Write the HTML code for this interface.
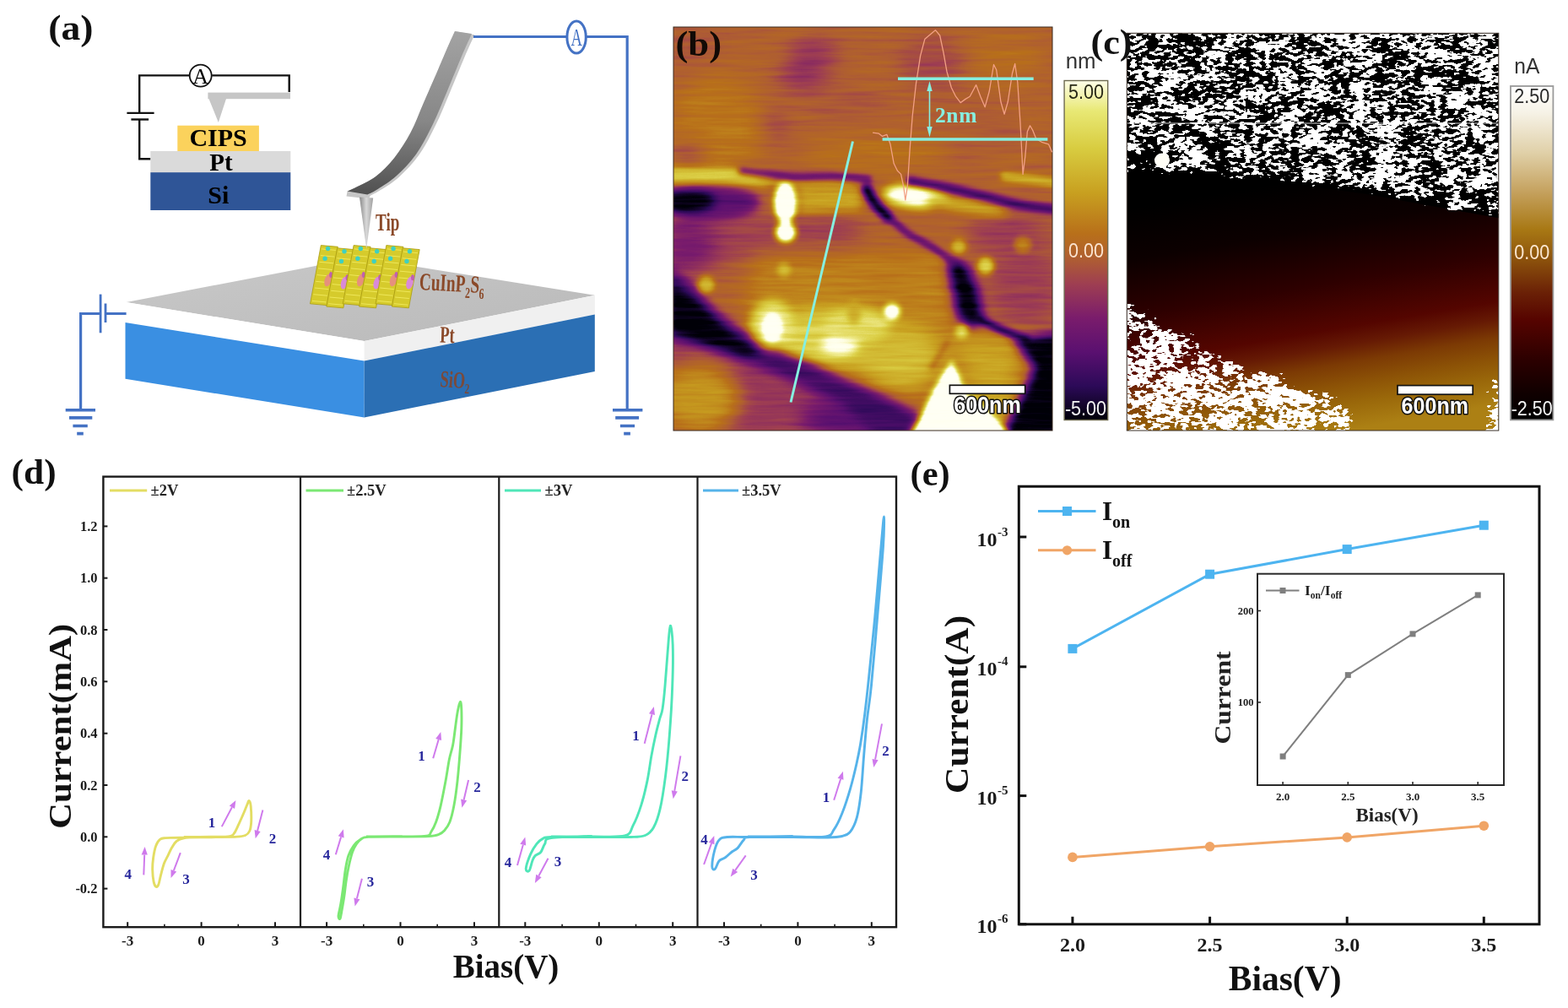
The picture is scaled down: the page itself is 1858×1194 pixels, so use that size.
<!DOCTYPE html>
<html lang="en"><head><meta charset="utf-8"><title>Figure</title>
<style>
html,body{margin:0;padding:0;background:#fff;}
body{width:1858px;height:1194px;overflow:hidden;}
svg{display:block;}
.s{font-family:"Liberation Serif",serif;font-weight:bold;}
.a{font-family:"Liberation Sans",sans-serif;}
</style></head><body>
<svg width="1858" height="1194" viewBox="0 0 1858 1194">
<rect x="0" y="0" width="1858" height="1194" fill="#ffffff"/>

<g id="pa">
<defs><linearGradient id="cant" x1="0" y1="0" x2="0" y2="1"><stop offset="0" stop-color="#a3a3a3"/><stop offset="0.55" stop-color="#878787"/><stop offset="1" stop-color="#505050"/></linearGradient><linearGradient id="tipg" x1="0" y1="0" x2="1" y2="0"><stop offset="0" stop-color="#8a8a8a"/><stop offset="0.5" stop-color="#d8d8d8"/><stop offset="1" stop-color="#a0a0a0"/></linearGradient><linearGradient id="topg" x1="0" y1="0" x2="1" y2="1"><stop offset="0" stop-color="#c9c9c9"/><stop offset="1" stop-color="#b9b9b9"/></linearGradient></defs>
<text class="s" font-size="42.5" text-anchor="start" fill="#111" transform="translate(57.3 47.1) scale(1.075 1)">(a)</text>
<g fill="none" stroke="#111" stroke-width="2.4"><path d="M178.5 188.3 H165.2 V141.5 M165.2 133.9 V89.4 H224.2 M251.2 89.4 H342.7 V109"/><path d="M150.4 133.9 H182.6"/><path d="M155.4 141.5 H176.1"/><circle cx="237.7" cy="89.6" r="13" stroke-width="1.8" fill="#fff"/></g>
<text class="s" x="237.7" y="98.5" font-size="26" text-anchor="middle" style="font-weight:normal">A</text>
<rect x="246.4" y="109.6" width="97.6" height="7.6" fill="#c6c6c6"/>
<polygon points="247.5,117 268,117 258.8,145" fill="#c6c6c6"/>
<rect x="210.3" y="148.7" width="96.6" height="30.5" fill="#fbd25c"/>
<rect x="178.3" y="179" width="166" height="25.4" fill="#dadada"/>
<rect x="178.3" y="204.2" width="166" height="44.8" fill="#2f5597"/>
<text class="s" x="258.6" y="173.2" font-size="30" text-anchor="middle">CIPS</text>
<text class="s" x="262" y="201.6" font-size="29" text-anchor="middle">Pt</text>
<text class="s" x="258.8" y="240.8" font-size="30" text-anchor="middle">Si</text>
<polygon points="149.6,358 426,305 704.8,349.7 431.6,404.1" fill="url(#topg)"/>
<polygon points="149.6,358 431.6,404.1 431.6,427.6 149.6,382" fill="#ffffff"/>
<polygon points="431.6,404.1 704.8,349.7 704.8,372.5 431.6,427.6" fill="#f0f0f0"/>
<polygon points="148.5,381.9 431.6,427.6 431.6,494.5 148.5,448.8" fill="#3a8fe2"/>
<polygon points="431.6,427.6 704.8,372.5 704.8,440 431.6,494.5" fill="#2b6fb4"/>
<g id="cryst">
<polygon points="380.3,290.6 400.3,292.3 387.5,361.6 367.5,359.8" fill="#d6cb2c" stroke="#a99c10" stroke-width="0.8"/>
<line x1="381.3" y1="294.9" x2="397.9" y2="296.4" stroke="#efe85a" stroke-width="1"/>
<line x1="379.9" y1="302.6" x2="396.5" y2="304.1" stroke="#efe85a" stroke-width="1"/>
<line x1="378.5" y1="310.3" x2="395.0" y2="311.8" stroke="#efe85a" stroke-width="1"/>
<line x1="377.1" y1="317.9" x2="393.6" y2="319.5" stroke="#efe85a" stroke-width="1"/>
<line x1="375.6" y1="325.6" x2="392.2" y2="327.2" stroke="#efe85a" stroke-width="1"/>
<line x1="374.2" y1="333.3" x2="390.8" y2="334.9" stroke="#efe85a" stroke-width="1"/>
<line x1="372.8" y1="341.0" x2="389.3" y2="342.6" stroke="#efe85a" stroke-width="1"/>
<line x1="371.4" y1="348.7" x2="387.9" y2="350.2" stroke="#efe85a" stroke-width="1"/>
<line x1="369.9" y1="356.4" x2="386.5" y2="357.9" stroke="#efe85a" stroke-width="1"/>
<circle cx="388.6" cy="294.5" r="2.7" fill="#3fd0c0"/>
<circle cx="385.1" cy="306.3" r="2.7" fill="#3fd0c0"/>
<ellipse cx="388.6" cy="332.0" rx="4" ry="7.5" fill="#e6907c" transform="rotate(15 388.6 332.0)"/>
<ellipse cx="392.1" cy="325.4" rx="2" ry="3.5" fill="#c060b0"/>
<polygon points="399.7,293.8 419.7,295.6 406.9,364.8 386.8,363.1" fill="#d6cb2c" stroke="#a99c10" stroke-width="0.8"/>
<line x1="400.7" y1="298.1" x2="417.3" y2="299.7" stroke="#efe85a" stroke-width="1"/>
<line x1="399.3" y1="305.8" x2="415.8" y2="307.3" stroke="#efe85a" stroke-width="1"/>
<line x1="397.9" y1="313.5" x2="414.4" y2="315.0" stroke="#efe85a" stroke-width="1"/>
<line x1="396.4" y1="321.2" x2="413.0" y2="322.7" stroke="#efe85a" stroke-width="1"/>
<line x1="395.0" y1="328.9" x2="411.6" y2="330.4" stroke="#efe85a" stroke-width="1"/>
<line x1="393.6" y1="336.6" x2="410.1" y2="338.1" stroke="#efe85a" stroke-width="1"/>
<line x1="392.2" y1="344.3" x2="408.7" y2="345.8" stroke="#efe85a" stroke-width="1"/>
<line x1="390.7" y1="352.0" x2="407.3" y2="353.5" stroke="#efe85a" stroke-width="1"/>
<line x1="389.3" y1="359.7" x2="405.9" y2="361.2" stroke="#efe85a" stroke-width="1"/>
<circle cx="408.0" cy="297.8" r="2.7" fill="#3fd0c0"/>
<circle cx="404.5" cy="309.5" r="2.7" fill="#3fd0c0"/>
<ellipse cx="408.0" cy="335.2" rx="4" ry="7.5" fill="#d98ad8" transform="rotate(15 408.0 335.2)"/>
<ellipse cx="411.5" cy="328.7" rx="2" ry="3.5" fill="#c060b0"/>
<polygon points="419.1,290.6 439.1,292.3 426.3,361.6 406.2,359.8" fill="#d6cb2c" stroke="#a99c10" stroke-width="0.8"/>
<line x1="420.1" y1="294.9" x2="436.7" y2="296.4" stroke="#efe85a" stroke-width="1"/>
<line x1="418.7" y1="302.6" x2="435.2" y2="304.1" stroke="#efe85a" stroke-width="1"/>
<line x1="417.2" y1="310.3" x2="433.8" y2="311.8" stroke="#efe85a" stroke-width="1"/>
<line x1="415.8" y1="317.9" x2="432.4" y2="319.5" stroke="#efe85a" stroke-width="1"/>
<line x1="414.4" y1="325.6" x2="430.9" y2="327.2" stroke="#efe85a" stroke-width="1"/>
<line x1="413.0" y1="333.3" x2="429.5" y2="334.9" stroke="#efe85a" stroke-width="1"/>
<line x1="411.5" y1="341.0" x2="428.1" y2="342.6" stroke="#efe85a" stroke-width="1"/>
<line x1="410.1" y1="348.7" x2="426.7" y2="350.2" stroke="#efe85a" stroke-width="1"/>
<line x1="408.7" y1="356.4" x2="425.2" y2="357.9" stroke="#efe85a" stroke-width="1"/>
<circle cx="427.3" cy="294.5" r="2.7" fill="#3fd0c0"/>
<circle cx="423.9" cy="306.3" r="2.7" fill="#3fd0c0"/>
<ellipse cx="427.3" cy="332.0" rx="4" ry="7.5" fill="#e6907c" transform="rotate(15 427.3 332.0)"/>
<ellipse cx="430.8" cy="325.4" rx="2" ry="3.5" fill="#c060b0"/>
<polygon points="438.5,293.8 458.5,295.6 445.6,364.8 425.6,363.1" fill="#d6cb2c" stroke="#a99c10" stroke-width="0.8"/>
<line x1="439.5" y1="298.1" x2="456.0" y2="299.7" stroke="#efe85a" stroke-width="1"/>
<line x1="438.1" y1="305.8" x2="454.6" y2="307.3" stroke="#efe85a" stroke-width="1"/>
<line x1="436.6" y1="313.5" x2="453.2" y2="315.0" stroke="#efe85a" stroke-width="1"/>
<line x1="435.2" y1="321.2" x2="451.7" y2="322.7" stroke="#efe85a" stroke-width="1"/>
<line x1="433.8" y1="328.9" x2="450.3" y2="330.4" stroke="#efe85a" stroke-width="1"/>
<line x1="432.3" y1="336.6" x2="448.9" y2="338.1" stroke="#efe85a" stroke-width="1"/>
<line x1="430.9" y1="344.3" x2="447.5" y2="345.8" stroke="#efe85a" stroke-width="1"/>
<line x1="429.5" y1="352.0" x2="446.0" y2="353.5" stroke="#efe85a" stroke-width="1"/>
<line x1="428.1" y1="359.7" x2="444.6" y2="361.2" stroke="#efe85a" stroke-width="1"/>
<circle cx="446.7" cy="297.8" r="2.7" fill="#3fd0c0"/>
<circle cx="443.2" cy="309.5" r="2.7" fill="#3fd0c0"/>
<ellipse cx="446.7" cy="335.2" rx="4" ry="7.5" fill="#d98ad8" transform="rotate(15 446.7 335.2)"/>
<ellipse cx="450.2" cy="328.7" rx="2" ry="3.5" fill="#c060b0"/>
<polygon points="457.8,290.6 477.9,292.3 465.0,361.6 445.0,359.8" fill="#d6cb2c" stroke="#a99c10" stroke-width="0.8"/>
<line x1="458.9" y1="294.9" x2="475.4" y2="296.4" stroke="#efe85a" stroke-width="1"/>
<line x1="457.4" y1="302.6" x2="474.0" y2="304.1" stroke="#efe85a" stroke-width="1"/>
<line x1="456.0" y1="310.3" x2="472.6" y2="311.8" stroke="#efe85a" stroke-width="1"/>
<line x1="454.6" y1="317.9" x2="471.1" y2="319.5" stroke="#efe85a" stroke-width="1"/>
<line x1="453.2" y1="325.6" x2="469.7" y2="327.2" stroke="#efe85a" stroke-width="1"/>
<line x1="451.7" y1="333.3" x2="468.3" y2="334.9" stroke="#efe85a" stroke-width="1"/>
<line x1="450.3" y1="341.0" x2="466.8" y2="342.6" stroke="#efe85a" stroke-width="1"/>
<line x1="448.9" y1="348.7" x2="465.4" y2="350.2" stroke="#efe85a" stroke-width="1"/>
<line x1="447.4" y1="356.4" x2="464.0" y2="357.9" stroke="#efe85a" stroke-width="1"/>
<circle cx="466.1" cy="294.5" r="2.7" fill="#3fd0c0"/>
<circle cx="462.6" cy="306.3" r="2.7" fill="#3fd0c0"/>
<ellipse cx="466.1" cy="332.0" rx="4" ry="7.5" fill="#e6907c" transform="rotate(15 466.1 332.0)"/>
<ellipse cx="469.6" cy="325.4" rx="2" ry="3.5" fill="#c060b0"/>
<polygon points="477.2,293.8 497.2,295.6 484.4,364.8 464.4,363.1" fill="#d6cb2c" stroke="#a99c10" stroke-width="0.8"/>
<line x1="478.2" y1="298.1" x2="494.8" y2="299.7" stroke="#efe85a" stroke-width="1"/>
<line x1="476.8" y1="305.8" x2="493.4" y2="307.3" stroke="#efe85a" stroke-width="1"/>
<line x1="475.4" y1="313.5" x2="491.9" y2="315.0" stroke="#efe85a" stroke-width="1"/>
<line x1="474.0" y1="321.2" x2="490.5" y2="322.7" stroke="#efe85a" stroke-width="1"/>
<line x1="472.5" y1="328.9" x2="489.1" y2="330.4" stroke="#efe85a" stroke-width="1"/>
<line x1="471.1" y1="336.6" x2="487.7" y2="338.1" stroke="#efe85a" stroke-width="1"/>
<line x1="469.7" y1="344.3" x2="486.2" y2="345.8" stroke="#efe85a" stroke-width="1"/>
<line x1="468.2" y1="352.0" x2="484.8" y2="353.5" stroke="#efe85a" stroke-width="1"/>
<line x1="466.8" y1="359.7" x2="483.4" y2="361.2" stroke="#efe85a" stroke-width="1"/>
<circle cx="485.5" cy="297.8" r="2.7" fill="#3fd0c0"/>
<circle cx="482.0" cy="309.5" r="2.7" fill="#3fd0c0"/>
<ellipse cx="485.5" cy="335.2" rx="4" ry="7.5" fill="#d98ad8" transform="rotate(15 485.5 335.2)"/>
<ellipse cx="489.0" cy="328.7" rx="2" ry="3.5" fill="#c060b0"/>
</g>
<path d="M539.0 37.0 C537.5 40.3 533.8 48.2 530.2 56.6 C526.6 65.0 521.9 76.2 517.2 87.1 C512.5 98.0 507.0 110.3 501.9 121.9 C496.8 133.5 492.5 145.9 486.7 156.8 C480.9 167.7 474.0 178.6 467.1 187.3 C460.2 196.0 452.6 203.4 445.3 209.0 C438.0 214.6 429.1 218.1 423.5 221.0 C417.9 223.9 413.6 225.6 411.6 226.5 L410.5 232.6 L437.0 235.6 L438.8 231.7 C440.8 230.6 445.3 228.8 451.0 225.1 C456.7 221.4 465.2 216.7 472.8 209.7 C480.4 202.7 489.4 193.6 496.7 183.3 C503.9 173.0 510.2 160.5 516.3 148.1 C522.4 135.7 527.6 122.3 533.3 108.9 C539.0 95.5 545.5 79.2 550.3 67.9 C555.1 56.6 560.3 45.7 562.3 41.2 Z" fill="#c6c6c6"/>
<path d="M539.0 37.0 C537.5 40.3 533.8 48.2 530.2 56.6 C526.6 65.0 521.9 76.2 517.2 87.1 C512.5 98.0 507.0 110.3 501.9 121.9 C496.8 133.5 492.5 145.9 486.7 156.8 C480.9 167.7 474.0 178.6 467.1 187.3 C460.2 196.0 452.6 203.4 445.3 209.0 C438.0 214.6 429.1 218.1 423.5 221.0 C417.9 223.9 413.6 225.6 411.6 226.5  L435.5 230.6 C437.5 229.5 442.0 227.8 447.7 224.1 C453.4 220.4 461.9 215.6 469.5 208.6 C477.1 201.6 486.1 192.6 493.4 182.3 C500.6 172.0 506.9 159.4 513.0 147.0 C519.1 134.6 524.3 121.2 530.0 107.8 C535.7 94.4 542.2 78.1 547.0 66.8 C551.8 55.5 557.0 44.5 559.0 40.1 Z" fill="url(#cant)"/>
<polygon points="426,233.4 442.2,234.5 434.2,295" fill="url(#tipg)"/>
<g fill="none" stroke="#4472c4" stroke-width="3.2"><path d="M561 43.5 H671.6 M694.6 43.5 H743.2 V486"/><path d="M726 485.8 H761.4 M729.2 494.9 H757.1 M734.9 504.5 H752.1 M739.2 513.6 H746.9" stroke-width="3.6"/><ellipse cx="683.1" cy="44" rx="11.2" ry="19" fill="#fff" stroke-width="3"/><path d="M149.6 371.5 H125 M119.1 371.5 H95.6 V486"/><path d="M119.1 348.6 V394.3" stroke-width="2.8"/><path d="M125 359.5 V382" stroke-width="2.8"/><path d="M77.7 485.8 H113 M82 494.9 H109.3 M86.4 504.5 H103.8 M91.2 513.6 H98.8" stroke-width="3.6"/></g>
<text class="s" x="683.1" y="54" font-size="30" text-anchor="middle" fill="#4472c4" transform="translate(683.1 0) scale(0.62 1) translate(-683.1 0)" style="font-weight:normal">A</text>
<text class="s" font-size="29" fill="#8b4a2a" transform="translate(445 273) scale(0.66 1)">Tip</text>
<text class="s" font-size="29" fill="#8b4a2a" transform="translate(496.5 343) rotate(3) scale(0.665 1)">CuInP<tspan font-size="18" dy="7">2</tspan><tspan dy="-7">S</tspan><tspan font-size="18" dy="7">6</tspan></text>
<text class="s" font-size="28" fill="#8b4a2a" transform="translate(521 405.5) rotate(2) scale(0.66 1)">Pt</text>
<text class="s" font-size="28" fill="#7a4a3a" transform="translate(521 458) rotate(4) scale(0.66 1)">SiO<tspan font-size="17" dy="6">2</tspan></text>
</g>
<g id="pb">
<defs><clipPath id="clipB"><rect x="798" y="32" width="449" height="478"/></clipPath><filter id="cmapB" filterUnits="userSpaceOnUse" x="758" y="-8" width="529" height="558" color-interpolation-filters="sRGB"><feTurbulence type="fractalNoise" baseFrequency="0.012 0.2" numOctaves="3" seed="7" result="n"/><feColorMatrix in="n" type="matrix" values="1 0 0 0 0  1 0 0 0 0  1 0 0 0 0  0 0 0 0 1" result="n2"/><feComposite in="SourceGraphic" in2="n2" operator="arithmetic" k1="0" k2="1" k3="0.11" k4="-0.055" result="m"/><feComponentTransfer in="m"><feFuncR type="table" tableValues="0.000 0.043 0.086 0.129 0.173 0.218 0.263 0.308 0.353 0.384 0.416 0.447 0.478 0.514 0.549 0.584 0.620 0.642 0.664 0.686 0.699 0.710 0.722 0.735 0.748 0.761 0.774 0.787 0.802 0.817 0.831 0.846 0.867 0.896 0.925 0.953 0.975 0.996 1.000 1.000 1.000"/><feFuncG type="table" tableValues="0.000 0.010 0.020 0.029 0.039 0.045 0.051 0.057 0.063 0.075 0.086 0.098 0.110 0.143 0.176 0.210 0.243 0.285 0.326 0.368 0.394 0.417 0.439 0.478 0.518 0.557 0.596 0.635 0.673 0.710 0.748 0.785 0.824 0.863 0.902 0.939 0.967 0.994 1.000 1.000 1.000"/><feFuncB type="table" tableValues="0.031 0.110 0.188 0.267 0.345 0.369 0.392 0.416 0.439 0.435 0.431 0.427 0.424 0.398 0.373 0.347 0.322 0.280 0.238 0.197 0.164 0.133 0.102 0.107 0.112 0.117 0.122 0.131 0.159 0.187 0.214 0.242 0.300 0.403 0.506 0.616 0.757 0.897 0.934 0.946 0.957"/></feComponentTransfer></filter><filter id="bl12" filterUnits="userSpaceOnUse" x="758" y="-8" width="529" height="558" color-interpolation-filters="sRGB"><feGaussianBlur stdDeviation="12"/></filter><filter id="bl6" filterUnits="userSpaceOnUse" x="758" y="-8" width="529" height="558" color-interpolation-filters="sRGB"><feGaussianBlur stdDeviation="6"/></filter><filter id="bl3" filterUnits="userSpaceOnUse" x="758" y="-8" width="529" height="558" color-interpolation-filters="sRGB"><feGaussianBlur stdDeviation="3.2"/></filter><filter id="bl2" filterUnits="userSpaceOnUse" x="758" y="-8" width="529" height="558" color-interpolation-filters="sRGB"><feGaussianBlur stdDeviation="1.8"/></filter></defs>
<g clip-path="url(#clipB)"><g filter="url(#cmapB)">
<g filter="url(#bl12)"><rect x="758" y="-8" width="529" height="558" fill="#7d7d7d"/><ellipse cx="850" cy="150" rx="55" ry="60" fill="#8f8f8f"/><ellipse cx="818" cy="52" rx="32" ry="24" fill="#737373"/><ellipse cx="1000" cy="120" rx="50" ry="25" fill="#757575"/><ellipse cx="965" cy="62" rx="30" ry="18" fill="#5c5c5c"/><ellipse cx="948" cy="92" rx="28" ry="16" fill="#5c5c5c"/><ellipse cx="918" cy="148" rx="18" ry="14" fill="#666666"/><ellipse cx="815" cy="185" rx="20" ry="18" fill="#6b6b6b"/><ellipse cx="1105" cy="75" rx="40" ry="30" fill="#6b6b6b"/><ellipse cx="1190" cy="70" rx="45" ry="30" fill="#878787"/><ellipse cx="1150" cy="150" rx="70" ry="30" fill="#787878"/><ellipse cx="1040" cy="180" rx="90" ry="22" fill="#8a8a8a"/><polygon points="790,255 900,258 1020,255 1020,292 900,300 790,330" fill="#666666"/><ellipse cx="815" cy="290" rx="35" ry="35" fill="#4c4c4c"/><polygon points="895,300 1120,300 1135,430 1100,470 1000,440 930,415 880,380" fill="#969696"/><ellipse cx="980" cy="402" rx="85" ry="36" fill="#cccccc"/><ellipse cx="1065" cy="424" rx="50" ry="40" fill="#bdbdbd"/><polygon points="1140,250 1260,250 1260,400 1170,390" fill="#737373"/><ellipse cx="1215" cy="340" rx="40" ry="40" fill="#666666"/><ellipse cx="1190" cy="275" rx="40" ry="18" fill="#616161"/><polygon points="790,400 900,430 1000,470 1090,520 790,520" fill="#616161"/><ellipse cx="828" cy="472" rx="48" ry="42" fill="#a3a3a3"/><ellipse cx="1010" cy="497" rx="60" ry="25" fill="#333333"/><polygon points="1130,392 1214,398 1202,520 1150,520" fill="#adadad"/></g>
<g filter="url(#bl6)"><polygon points="790,199 860,201 900,206 920,213 905,218 860,216 790,216" fill="#dbdbdb"/><ellipse cx="842" cy="240" rx="58" ry="20" fill="#333333"/><ellipse cx="812" cy="238" rx="36" ry="15" fill="#000000"/><polygon points="945,218 1018,220 1022,250 945,252" fill="#adadad"/><polygon points="790,314 815,332 850,370 885,396 930,419 965,432 1005,452 1045,470 1090,492 1090,520 1040,520 1000,482 950,458 900,436 860,420 820,408 790,402" fill="#242424"/><polygon points="790,332 828,358 868,396 908,416 880,424 840,412 790,394" fill="#000000"/><polygon points="1200,402 1260,394 1260,520 1184,520 1208,472 1226,436" fill="#000000"/><polygon points="1126,303 1146,314 1160,345 1166,382 1150,388 1134,376 1130,350 1124,325" fill="#000000"/><ellipse cx="1086" cy="232.5" rx="40" ry="13.5" fill="#ffffff" transform="rotate(5 1086 232.5)"/><ellipse cx="1145" cy="244" rx="50" ry="9" fill="#b2b2b2" transform="rotate(8 1145 244)"/><polygon points="1128,432 1140,456 1162,484 1196,520 1078,520 1102,474" fill="#f2f2f2"/><ellipse cx="995" cy="409" rx="22" ry="9" fill="#ffffff"/><ellipse cx="1015" cy="385" rx="40" ry="20" fill="#d1d1d1"/><ellipse cx="915" cy="385" rx="26" ry="30" fill="#d6d6d6"/></g>
<g filter="url(#bl3)"><path d="M878.0 202.0 C883.3 202.7 898.8 204.7 910.0 206.0 C921.2 207.3 932.5 209.5 945.0 210.0 C957.5 210.5 970.8 208.7 985.0 209.0 C999.2 209.3 1022.5 211.5 1030.0 212.0" fill="none" stroke="#1f1f1f" stroke-width="6" stroke-linecap="round"/><path d="M900.0 214.0 C908.3 214.7 931.7 217.2 950.0 218.0 C968.3 218.8 1000.0 218.8 1010.0 219.0" fill="none" stroke="#adadad" stroke-width="4" stroke-linecap="round"/><path d="M1052.0 256.0 C1055.8 259.3 1066.2 269.8 1075.0 276.0 C1083.8 282.2 1095.8 287.2 1105.0 293.0 C1114.2 298.8 1125.8 308.0 1130.0 311.0" fill="none" stroke="#292929" stroke-width="7" stroke-linecap="round"/><path d="M1027.0 224.0 C1028.5 226.7 1031.8 234.5 1036.0 240.0 C1040.2 245.5 1049.3 254.2 1052.0 257.0" fill="none" stroke="#000000" stroke-width="12" stroke-linecap="round"/><path d="M1078.0 214.0 C1083.3 215.0 1096.3 217.2 1110.0 220.0 C1123.7 222.8 1143.3 227.2 1160.0 231.0 C1176.7 234.8 1195.0 240.2 1210.0 243.0 C1225.0 245.8 1243.3 247.2 1250.0 248.0" fill="none" stroke="#1a1a1a" stroke-width="9.5" stroke-linecap="round"/><path d="M1160.0 378.0 C1165.0 380.3 1180.5 388.0 1190.0 392.0 C1199.5 396.0 1212.5 400.3 1217.0 402.0" fill="none" stroke="#000000" stroke-width="8" stroke-linecap="round"/><path d="M1190.0 209.0 C1200.0 210.2 1240.0 214.8 1250.0 216.0" fill="none" stroke="#b8b8b8" stroke-width="10" stroke-linecap="round"/><polygon points="1128,426 1138,452 1144,470 1168,484 1204,522 1074,522 1090,498 1110,455" fill="#ffffff"/><path d="M1123.0 404.0 C1121.5 406.7 1117.2 414.7 1114.0 420.0 C1110.8 425.3 1105.7 433.3 1104.0 436.0" fill="none" stroke="#7a7a7a" stroke-width="4" stroke-linecap="round"/><ellipse cx="1139.5" cy="393" rx="8" ry="8" fill="#d1d1d1"/><ellipse cx="930.5" cy="240" rx="14" ry="25" fill="#ffffff"/><ellipse cx="931" cy="275" rx="12.5" ry="12" fill="#ffffff"/><ellipse cx="915" cy="388" rx="12" ry="17" fill="#ffffff"/><ellipse cx="1057" cy="369" rx="10" ry="10" fill="#ffffff"/><ellipse cx="837" cy="337" rx="10" ry="10" fill="#b8b8b8"/><ellipse cx="929" cy="320" rx="8" ry="9" fill="#b8b8b8"/><ellipse cx="1136" cy="292" rx="9" ry="9" fill="#b8b8b8"/><ellipse cx="1168" cy="315" rx="10" ry="10" fill="#cccccc"/><ellipse cx="1212" cy="290" rx="10" ry="9" fill="#999999"/><ellipse cx="1012" cy="370" rx="8" ry="14" fill="#b2b2b2"/></g>
</g></g>
<rect x="798" y="32" width="449" height="478" fill="none" stroke="#3a2a20" stroke-width="1"/>
<line x1="1010.5" y1="167.5" x2="937" y2="476.5" stroke="#86efe0" stroke-width="3"/>
<polyline points="1034.1,157.2 1041.4,158.2 1045.6,161.4 1050.8,159.3 1055.0,170.8 1059.2,193.8 1063.4,202.2 1067.6,206.4 1070.7,221.0 1072.8,236.8 1075.3,221.0 1078.1,177.1 1081.2,137.3 1085.4,99.6 1090.6,66.1 1095.9,46.2 1102.1,40.9 1108.4,35.7 1113.7,42.0 1117.9,61.9 1122.0,84.9 1127.3,103.8 1132.5,114.2 1138.2,121.6 1144.0,117.4 1149.3,114.2 1156.6,100.6 1161.8,114.2 1167.1,126.8 1172.3,108.0 1177.5,76.5 1180.7,82.8 1185.9,120.5 1190.1,135.2 1194.3,120.5 1199.5,87.0 1202.7,75.5 1205.8,97.5 1209.0,145.7 1212.1,206.4 1214.8,185.4 1217.3,156.1 1220.5,148.8 1223.6,154.0 1227.8,164.5 1235.1,168.7 1242.5,170.8 1246.6,180.2" fill="none" stroke="#f2a084" stroke-width="1.3" stroke-linejoin="round"/>
<line x1="1064" y1="93.3" x2="1224.7" y2="93.3" stroke="#86efe0" stroke-width="3.6"/>
<line x1="1045.6" y1="165" x2="1241.4" y2="165" stroke="#86efe0" stroke-width="3.6"/>
<line x1="1101.5" y1="104" x2="1101.5" y2="154" stroke="#86efe0" stroke-width="1.6"/>
<polygon points="1101.5,96 1098.3,108 1104.7,108" fill="#86efe0"/><polygon points="1101.5,162.5 1098.3,150 1104.7,150" fill="#86efe0"/>
<text class="s" x="1108" y="145" font-size="25.5" fill="#86efe0" letter-spacing="0.6">2nm</text>
<text class="s" font-size="42.5" text-anchor="start" fill="#120a06" transform="translate(800.5 66) scale(1.05 1)">(b)</text>
<rect x="1125.4" y="456.3" width="89.3" height="10" fill="#fff" stroke="#111" stroke-width="1.7"/>
<text class="a" x="1170" y="489.3" font-size="27" font-weight="bold" textLength="79.5" lengthAdjust="spacingAndGlyphs" text-anchor="middle" fill="#fff" stroke="#111" stroke-width="3.2" stroke-linejoin="round" paint-order="stroke">600nm</text>
<defs><linearGradient id="cbB" x1="0" y1="1" x2="0" y2="0"><stop offset="0.0" stop-color="rgb(0,0,8)"/><stop offset="0.1" stop-color="rgb(44,10,88)"/><stop offset="0.2" stop-color="rgb(90,16,112)"/><stop offset="0.3" stop-color="rgb(122,28,108)"/><stop offset="0.4" stop-color="rgb(158,62,82)"/><stop offset="0.48" stop-color="rgb(176,96,48)"/><stop offset="0.55" stop-color="rgb(184,112,26)"/><stop offset="0.67" stop-color="rgb(200,160,32)"/><stop offset="0.8" stop-color="rgb(216,204,64)"/><stop offset="0.91" stop-color="rgb(232,232,116)"/><stop offset="0.95" stop-color="rgb(242,242,168)"/><stop offset="1.0" stop-color="rgb(253,253,232)"/></linearGradient></defs>
<rect x="1261.1" y="95.5" width="51.6" height="402" fill="url(#cbB)" stroke="#6e6a50" stroke-width="1.4"/>
<text class="a" font-size="24.5" text-anchor="middle" fill="#2a2a18" transform="translate(1287 117) scale(0.88 1)">5.00</text>
<text class="a" font-size="24.5" text-anchor="middle" fill="#fbe3cf" transform="translate(1287 304.5) scale(0.88 1)">0.00</text>
<text class="a" font-size="24.5" text-anchor="middle" fill="#f4f4f4" transform="translate(1286.5 492) scale(0.88 1)">-5.00</text>
<text class="a" font-size="25.8" text-anchor="start" fill="#333" transform="translate(1262.7 80.5)">nm</text>
</g>
<g id="pc">
<defs><clipPath id="clipC"><rect x="1335.3" y="39.3" width="440.5" height="470.7"/></clipPath><linearGradient id="bgC" gradientUnits="userSpaceOnUse" x1="1530" y1="215" x2="1580" y2="512"><stop offset="0" stop-color="#000000"/><stop offset="0.2" stop-color="#0c0000"/><stop offset="0.42" stop-color="#2e0000"/><stop offset="0.6" stop-color="#540500"/><stop offset="0.67" stop-color="#661a04"/><stop offset="0.74" stop-color="#7c3a04"/><stop offset="0.82" stop-color="#8c5206"/><stop offset="0.9" stop-color="#9a680a"/><stop offset="1" stop-color="#ac8014"/></linearGradient><filter id="nzC1" filterUnits="userSpaceOnUse" x="1335.3" y="39.3" width="440.5" height="470.7" color-interpolation-filters="sRGB"><feTurbulence type="fractalNoise" baseFrequency="0.13 0.24" numOctaves="2" seed="11" result="t1"/><feColorMatrix in="t1" type="matrix" values="0 0 0 0 1  0 0 0 0 1  0 0 0 0 1  1 0 0 0 0" result="a1"/><feTurbulence type="fractalNoise" baseFrequency="0.035 0.05" numOctaves="2" seed="14" result="t2"/><feColorMatrix in="t2" type="matrix" values="0 0 0 0 1  0 0 0 0 1  0 0 0 0 1  1 0 0 0 0" result="a2"/><feComposite in="a1" in2="a2" operator="arithmetic" k1="0" k2="0.8" k3="0.55" k4="-0.175" result="c1"/><feGaussianBlur in="SourceGraphic" stdDeviation="5" result="sb"/><feComposite in="c1" in2="sb" operator="arithmetic" k1="0" k2="1" k3="0.5" k4="-0.5" result="c2"/><feColorMatrix in="c2" type="matrix" values="0 0 0 0 1  0 0 0 0 1  0 0 0 0 1  0 0 0 40 -19.6"/></filter><filter id="nzC2" filterUnits="userSpaceOnUse" x="1335.3" y="39.3" width="440.5" height="470.7" color-interpolation-filters="sRGB"><feTurbulence type="fractalNoise" baseFrequency="0.12 0.22" numOctaves="2" seed="29" result="t1"/><feColorMatrix in="t1" type="matrix" values="0 0 0 0 1  0 0 0 0 1  0 0 0 0 1  1 0 0 0 0" result="a1"/><feTurbulence type="fractalNoise" baseFrequency="0.03 0.05" numOctaves="2" seed="32" result="t2"/><feColorMatrix in="t2" type="matrix" values="0 0 0 0 1  0 0 0 0 1  0 0 0 0 1  1 0 0 0 0" result="a2"/><feComposite in="a1" in2="a2" operator="arithmetic" k1="0" k2="0.8" k3="0.55" k4="-0.175" result="c1"/><feGaussianBlur in="SourceGraphic" stdDeviation="9" result="sb"/><feComposite in="c1" in2="sb" operator="arithmetic" k1="0" k2="1" k3="0.55" k4="-0.55" result="c2"/><feColorMatrix in="c2" type="matrix" values="0 0 0 0 1  0 0 0 0 1  0 0 0 0 1  0 0 0 40 -18.2"/></filter><linearGradient id="biasC" gradientUnits="userSpaceOnUse" x1="1335" y1="0" x2="1776" y2="0"><stop offset="0" stop-color="#fff" stop-opacity="0.96"/><stop offset="0.6" stop-color="#fff" stop-opacity="1"/></linearGradient></defs>
<g clip-path="url(#clipC)">
<rect x="1335.3" y="39.3" width="440.5" height="470.7" fill="url(#bgC)"/>
<polygon points="1315,20 1796,20 1796,262 1730,250 1680,241 1620,230 1570,223 1500,214 1450,209 1390,206 1315,205" fill="#000"/>
<g filter="url(#nzC1)"><polygon points="1315,20 1796,20 1796,262 1730,250 1680,241 1620,230 1570,223 1500,214 1450,209 1390,206 1315,205" fill="url(#biasC)"/></g>
<g filter="url(#nzC2)"><polygon points="1315,352 1345,360 1365,370 1390,388 1418,397 1450,415 1468,429 1498,435 1524,447 1562,462 1596,481 1640,530 1315,530" fill="#fff"/><polygon points="1752,530 1758,470 1768,442 1796,436 1796,530" fill="#fff"/></g>
<ellipse cx="1377" cy="190" rx="9" ry="8.5" fill="#fffef6"/>
<line x1="1335" y1="146" x2="1776" y2="146" stroke="#fff" stroke-width="1.4" opacity="0.55"/>
</g>
<rect x="1335.3" y="39.3" width="440.5" height="470.7" fill="none" stroke="#3a3028" stroke-width="1"/>
<text class="s" font-size="42.5" text-anchor="start" fill="#111" transform="translate(1292.5 64) scale(1.04 1)">(c)</text>
<rect x="1656" y="456.6" width="89.2" height="10.6" fill="#fff" stroke="#111" stroke-width="1.7"/>
<text class="a" x="1700.3" y="489.5" font-size="27" font-weight="bold" textLength="79.5" lengthAdjust="spacingAndGlyphs" text-anchor="middle" fill="#fff" stroke="#111" stroke-width="3.2" stroke-linejoin="round" paint-order="stroke">600nm</text>
<defs><linearGradient id="cbC" x1="0" y1="0" x2="0" y2="1"><stop offset="0" stop-color="#ffffff"/><stop offset="0.08" stop-color="#f6f2e6"/><stop offset="0.2" stop-color="#e0d0a8"/><stop offset="0.32" stop-color="#c4a05c"/><stop offset="0.43" stop-color="#a87814"/><stop offset="0.52" stop-color="#8c520c"/><stop offset="0.62" stop-color="#6a2006"/><stop offset="0.7" stop-color="#560400"/><stop offset="0.82" stop-color="#2c0000"/><stop offset="0.92" stop-color="#100000"/><stop offset="1" stop-color="#000000"/></linearGradient></defs>
<rect x="1790" y="102" width="50.4" height="395.4" fill="url(#cbC)" stroke="#9a9a9a" stroke-width="1.8"/>
<text class="a" font-size="24.5" text-anchor="middle" fill="#2a2a2a" transform="translate(1815.2 122) scale(0.88 1)">2.50</text>
<text class="a" font-size="24.5" text-anchor="middle" fill="#fbe6cf" transform="translate(1815.2 306.5) scale(0.88 1)">0.00</text>
<text class="a" font-size="24.5" text-anchor="middle" fill="#f4f4f4" transform="translate(1815.2 491.5) scale(0.88 1)">-2.50</text>
<text class="a" font-size="26.5" text-anchor="start" fill="#333" transform="translate(1794.2 86.5) scale(0.93 1)">nA</text>
</g>
<g id="pd">
<text class="s" font-size="42.5" text-anchor="start" fill="#111" transform="translate(13.6 573.2) scale(1.02 1)">(d)</text>
<rect x="122.4" y="564.6" width="939.6" height="533.6" fill="none" stroke="#1a1a1a" stroke-width="2.4"/>
<line x1="356.0" y1="564.6" x2="356.0" y2="1098.2" stroke="#1a1a1a" stroke-width="2.2"/>
<line x1="591.3" y1="564.6" x2="591.3" y2="1098.2" stroke="#1a1a1a" stroke-width="2.2"/>
<line x1="826.5" y1="564.6" x2="826.5" y2="1098.2" stroke="#1a1a1a" stroke-width="2.2"/>
<line x1="122.4" y1="623.4" x2="127.4" y2="623.4" stroke="#1a1a1a" stroke-width="2"/>
<text class="s" x="115.5" y="629.0" font-size="16.5" text-anchor="end" fill="#1a1a1a">1.2</text>
<line x1="122.4" y1="684.7" x2="127.4" y2="684.7" stroke="#1a1a1a" stroke-width="2"/>
<text class="s" x="115.5" y="690.3" font-size="16.5" text-anchor="end" fill="#1a1a1a">1.0</text>
<line x1="122.4" y1="746.0" x2="127.4" y2="746.0" stroke="#1a1a1a" stroke-width="2"/>
<text class="s" x="115.5" y="751.6" font-size="16.5" text-anchor="end" fill="#1a1a1a">0.8</text>
<line x1="122.4" y1="807.3" x2="127.4" y2="807.3" stroke="#1a1a1a" stroke-width="2"/>
<text class="s" x="115.5" y="812.9" font-size="16.5" text-anchor="end" fill="#1a1a1a">0.6</text>
<line x1="122.4" y1="868.7" x2="127.4" y2="868.7" stroke="#1a1a1a" stroke-width="2"/>
<text class="s" x="115.5" y="874.3" font-size="16.5" text-anchor="end" fill="#1a1a1a">0.4</text>
<line x1="122.4" y1="930.0" x2="127.4" y2="930.0" stroke="#1a1a1a" stroke-width="2"/>
<text class="s" x="115.5" y="935.6" font-size="16.5" text-anchor="end" fill="#1a1a1a">0.2</text>
<line x1="122.4" y1="991.3" x2="127.4" y2="991.3" stroke="#1a1a1a" stroke-width="2"/>
<text class="s" x="115.5" y="996.9" font-size="16.5" text-anchor="end" fill="#1a1a1a">0.0</text>
<line x1="122.4" y1="1052.6" x2="127.4" y2="1052.6" stroke="#1a1a1a" stroke-width="2"/>
<text class="s" x="115.5" y="1058.2" font-size="16.5" text-anchor="end" fill="#1a1a1a">-0.2</text>
<line x1="151.2" y1="1098.2" x2="151.2" y2="1092.2" stroke="#1a1a1a" stroke-width="2"/>
<text class="s" x="151.2" y="1120" font-size="17" text-anchor="middle" fill="#1a1a1a">-3</text>
<line x1="238.6" y1="1098.2" x2="238.6" y2="1092.2" stroke="#1a1a1a" stroke-width="2"/>
<text class="s" x="238.6" y="1120" font-size="17" text-anchor="middle" fill="#1a1a1a">0</text>
<line x1="326.0" y1="1098.2" x2="326.0" y2="1092.2" stroke="#1a1a1a" stroke-width="2"/>
<text class="s" x="326.0" y="1120" font-size="17" text-anchor="middle" fill="#1a1a1a">3</text>
<line x1="194.9" y1="1098.2" x2="194.9" y2="1094.7" stroke="#1a1a1a" stroke-width="1.6"/>
<line x1="282.3" y1="1098.2" x2="282.3" y2="1094.7" stroke="#1a1a1a" stroke-width="1.6"/>
<line x1="387.1" y1="1098.2" x2="387.1" y2="1092.2" stroke="#1a1a1a" stroke-width="2"/>
<text class="s" x="387.1" y="1120" font-size="17" text-anchor="middle" fill="#1a1a1a">-3</text>
<line x1="474.5" y1="1098.2" x2="474.5" y2="1092.2" stroke="#1a1a1a" stroke-width="2"/>
<text class="s" x="474.5" y="1120" font-size="17" text-anchor="middle" fill="#1a1a1a">0</text>
<line x1="562.0" y1="1098.2" x2="562.0" y2="1092.2" stroke="#1a1a1a" stroke-width="2"/>
<text class="s" x="562.0" y="1120" font-size="17" text-anchor="middle" fill="#1a1a1a">3</text>
<line x1="430.8" y1="1098.2" x2="430.8" y2="1094.7" stroke="#1a1a1a" stroke-width="1.6"/>
<line x1="518.2" y1="1098.2" x2="518.2" y2="1094.7" stroke="#1a1a1a" stroke-width="1.6"/>
<line x1="622.3" y1="1098.2" x2="622.3" y2="1092.2" stroke="#1a1a1a" stroke-width="2"/>
<text class="s" x="622.3" y="1120" font-size="17" text-anchor="middle" fill="#1a1a1a">-3</text>
<line x1="709.8" y1="1098.2" x2="709.8" y2="1092.2" stroke="#1a1a1a" stroke-width="2"/>
<text class="s" x="709.8" y="1120" font-size="17" text-anchor="middle" fill="#1a1a1a">0</text>
<line x1="797.2" y1="1098.2" x2="797.2" y2="1092.2" stroke="#1a1a1a" stroke-width="2"/>
<text class="s" x="797.2" y="1120" font-size="17" text-anchor="middle" fill="#1a1a1a">3</text>
<line x1="666.1" y1="1098.2" x2="666.1" y2="1094.7" stroke="#1a1a1a" stroke-width="1.6"/>
<line x1="753.5" y1="1098.2" x2="753.5" y2="1094.7" stroke="#1a1a1a" stroke-width="1.6"/>
<line x1="858.0" y1="1098.2" x2="858.0" y2="1092.2" stroke="#1a1a1a" stroke-width="2"/>
<text class="s" x="858.0" y="1120" font-size="17" text-anchor="middle" fill="#1a1a1a">-3</text>
<line x1="945.4" y1="1098.2" x2="945.4" y2="1092.2" stroke="#1a1a1a" stroke-width="2"/>
<text class="s" x="945.4" y="1120" font-size="17" text-anchor="middle" fill="#1a1a1a">0</text>
<line x1="1032.8" y1="1098.2" x2="1032.8" y2="1092.2" stroke="#1a1a1a" stroke-width="2"/>
<text class="s" x="1032.8" y="1120" font-size="17" text-anchor="middle" fill="#1a1a1a">3</text>
<line x1="901.7" y1="1098.2" x2="901.7" y2="1094.7" stroke="#1a1a1a" stroke-width="1.6"/>
<line x1="989.1" y1="1098.2" x2="989.1" y2="1094.7" stroke="#1a1a1a" stroke-width="1.6"/>
<text class="s" font-size="39" text-anchor="middle" fill="#111" transform="translate(599.5 1157.5)">Bias(V)</text>
<text class="s" font-size="38.5" text-anchor="middle" fill="#111" transform="translate(84.2 860.3) rotate(-90) scale(1.107 1)">Current(mA)</text>
<line x1="130" y1="581" x2="174.2" y2="581" stroke="#e3dd63" stroke-width="3"/>
<text class="s" x="178.5" y="587.3" font-size="18.5" fill="#222">±2V</text>
<line x1="362.5" y1="581" x2="407" y2="581" stroke="#7be873" stroke-width="3"/>
<text class="s" x="411" y="587.3" font-size="18.5" fill="#222">±2.5V</text>
<line x1="598" y1="581" x2="641" y2="581" stroke="#4fe6b8" stroke-width="3"/>
<text class="s" x="645.5" y="587.3" font-size="18.5" fill="#222">±3V</text>
<line x1="833" y1="581" x2="875" y2="581" stroke="#55b3ea" stroke-width="3"/>
<text class="s" x="879" y="587.3" font-size="18.5" fill="#222">±3.5V</text>
<path d="M217.8 991.5 C223.2 991.5 241.3 991.4 250.4 991.3 C259.5 991.1 267.6 991.4 272.2 990.6 C276.8 989.8 275.9 989.2 277.7 986.7 C279.5 984.2 281.3 979.6 283.1 975.8 C284.9 972.0 286.9 967.6 288.5 963.8 C290.1 960.0 291.8 955.5 292.9 953.0 C294.0 950.5 294.4 948.2 295.1 948.6 C295.8 949.0 296.8 950.9 297.2 955.1 C297.6 959.3 297.9 968.7 297.7 973.6 C297.4 978.5 296.9 981.9 295.7 984.5 C294.5 987.1 293.2 988.4 290.7 989.5 C288.2 990.6 287.6 990.7 280.9 991.1 C274.2 991.5 260.9 991.5 250.4 991.7 C239.9 991.9 226.9 992.0 217.8 992.1 C208.7 992.2 200.7 992.2 196.0 992.6 C191.3 993.0 191.4 992.8 189.5 994.3 C187.6 995.8 186.0 998.4 184.7 1001.9 C183.4 1005.4 182.5 1010.3 181.8 1015.0 C181.1 1019.7 180.6 1025.4 180.7 1030.3 C180.8 1035.2 181.4 1041.1 182.1 1044.4 C182.8 1047.7 183.8 1049.7 184.7 1050.3 C185.6 1050.9 186.7 1050.3 187.7 1048.1 C188.7 1045.8 189.4 1041.0 190.5 1036.8 C191.6 1032.5 193.1 1026.4 194.5 1022.6 C195.9 1018.8 197.3 1017.0 198.8 1013.9 C200.3 1010.8 201.9 1007.0 203.6 1004.1 C205.3 1001.2 206.7 998.4 209.1 996.5 C211.5 994.6 212.7 993.6 217.8 992.8 C222.9 992.0 235.9 991.7 239.5 991.5" fill="none" stroke="#e3dd63" stroke-width="2.9" stroke-linejoin="round"/>
<line x1="262.8" y1="979.1" x2="274.9" y2="956.3" stroke="#cf7aec" stroke-width="2.0"/><polygon points="279.4,947.9 278.1,958.0 271.8,954.6" fill="#cf7aec"/>
<line x1="311.4" y1="959.5" x2="305.1" y2="984.0" stroke="#cf7aec" stroke-width="2.0"/><polygon points="302.7,993.2 301.6,983.1 308.6,984.9" fill="#cf7aec"/>
<line x1="213.8" y1="1010.2" x2="205.9" y2="1031.2" stroke="#cf7aec" stroke-width="2.0"/><polygon points="202.5,1040.1 202.5,1029.9 209.2,1032.5" fill="#cf7aec"/>
<line x1="170.3" y1="1036.4" x2="171.2" y2="1012.5" stroke="#cf7aec" stroke-width="2.0"/><polygon points="171.6,1003.0 174.8,1012.6 167.6,1012.4" fill="#cf7aec"/>
<text class="s" x="250.9" y="979.7" font-size="17" fill="#27279c" text-anchor="middle">1</text>
<text class="s" x="322.9" y="999.3" font-size="17" fill="#27279c" text-anchor="middle">2</text>
<text class="s" x="220.4" y="1046.6" font-size="17" fill="#27279c" text-anchor="middle">3</text>
<text class="s" x="151.8" y="1041.1" font-size="17" fill="#27279c" text-anchor="middle">4</text>
<path d="M434.0 990.9 C441.1 990.9 464.8 991.0 476.7 990.9 C488.6 990.8 499.5 991.2 505.2 990.3 C510.9 989.3 509.0 988.0 510.9 985.2 C512.8 982.5 514.7 979.0 516.6 973.8 C518.5 968.6 520.4 961.9 522.3 953.8 C524.2 945.7 526.3 934.3 528.0 925.3 C529.7 916.3 530.9 906.8 532.3 899.7 C533.7 892.6 535.4 888.8 536.6 882.6 C537.8 876.4 538.5 869.4 539.4 862.7 C540.3 856.1 541.3 847.9 542.3 842.7 C543.3 837.5 544.6 831.8 545.4 831.3 C546.1 830.8 546.6 834.7 546.8 839.9 C547.0 845.1 547.1 853.7 546.8 862.7 C546.5 871.7 545.6 883.6 544.8 894.0 C544.0 904.4 543.1 915.3 542.0 925.3 C540.9 935.3 539.5 945.7 538.0 953.8 C536.5 961.9 534.8 968.8 532.9 973.8 C531.0 978.8 528.8 981.2 526.6 983.7 C524.4 986.2 522.6 987.5 519.5 988.6 C516.4 989.8 515.2 990.2 508.1 990.6 C501.0 991.0 488.6 991.0 476.7 991.1 C464.8 991.2 445.0 991.0 436.9 991.4 C428.8 991.8 430.7 992.4 428.3 993.7 C425.9 995.0 424.4 996.8 422.6 999.4 C420.8 1002.0 419.0 1005.1 417.5 1009.4 C416.0 1013.7 414.7 1019.5 413.5 1025.0 C412.3 1030.5 411.3 1035.9 410.4 1042.1 C409.4 1048.3 408.7 1055.9 407.8 1062.1 C406.9 1068.3 405.7 1074.8 404.9 1079.2 C404.1 1083.6 403.6 1087.3 403.0 1088.3 C402.4 1089.2 400.9 1087.9 401.0 1084.9 C401.1 1082.0 402.9 1076.3 403.8 1070.6 C404.8 1064.9 405.8 1057.3 406.7 1050.7 C407.6 1044.1 408.2 1036.9 409.2 1030.7 C410.2 1024.5 411.2 1018.4 412.9 1013.6 C414.6 1008.8 416.9 1004.9 419.2 1001.7 C421.5 998.5 423.9 996.4 426.9 994.6 C429.8 992.8 428.6 991.8 436.9 991.1 C445.2 990.4 470.1 990.7 476.7 990.6" fill="none" stroke="#7be873" stroke-width="2.9" stroke-linejoin="round"/>
<line x1="513.2" y1="898.3" x2="519.7" y2="876.0" stroke="#cf7aec" stroke-width="2.0"/><polygon points="522.3,866.9 523.1,877.0 516.2,875.0" fill="#cf7aec"/>
<line x1="555.1" y1="923.9" x2="549.6" y2="947.5" stroke="#cf7aec" stroke-width="2.0"/><polygon points="547.4,956.7 546.1,946.6 553.1,948.3" fill="#cf7aec"/>
<line x1="397.8" y1="1012.2" x2="404.1" y2="991.4" stroke="#cf7aec" stroke-width="2.0"/><polygon points="406.9,982.3 407.6,992.4 400.7,990.3" fill="#cf7aec"/>
<line x1="428.9" y1="1040.7" x2="422.9" y2="1064.3" stroke="#cf7aec" stroke-width="2.0"/><polygon points="420.6,1073.5 419.4,1063.4 426.4,1065.2" fill="#cf7aec"/>
<text class="s" x="499.5" y="901.1" font-size="17" fill="#27279c" text-anchor="middle">1</text>
<text class="s" x="565.6" y="938.2" font-size="17" fill="#27279c" text-anchor="middle">2</text>
<text class="s" x="439.1" y="1050.1" font-size="17" fill="#27279c" text-anchor="middle">3</text>
<text class="s" x="387.0" y="1017.9" font-size="17" fill="#27279c" text-anchor="middle">4</text>
<path d="M652.9 991.0 C661.0 991.0 686.9 991.2 701.5 991.0 C716.1 990.8 732.2 992.2 740.3 990.0 C748.4 987.8 746.9 984.0 750.1 977.9 C753.4 971.8 757.0 962.5 759.8 953.6 C762.6 944.7 765.1 934.1 767.1 924.4 C769.1 914.7 770.3 904.2 771.9 895.3 C773.5 886.4 775.2 878.3 776.8 871.0 C778.4 863.7 780.3 856.8 781.7 851.5 C783.1 846.2 784.1 845.9 785.1 839.4 C786.1 832.9 787.0 824.5 788.0 812.7 C789.0 801.0 790.4 780.8 791.4 768.9 C792.4 757.0 793.3 742.0 794.3 741.2 C795.3 740.4 796.8 752.2 797.2 764.1 C797.6 776.0 797.4 794.9 796.7 812.7 C796.1 830.5 794.7 853.2 793.3 871.0 C791.9 888.8 790.4 905.0 788.5 919.6 C786.6 934.2 784.5 948.3 782.1 958.4 C779.8 968.5 777.3 975.1 774.4 980.3 C771.5 985.5 769.1 987.6 764.6 989.5 C760.1 991.4 758.1 991.2 747.6 991.5 C737.1 991.8 717.3 991.5 701.5 991.5 C685.7 991.5 662.6 991.2 652.9 991.5 C643.2 991.8 646.0 992.0 643.2 993.4 C640.4 994.8 638.3 996.6 635.9 999.7 C633.5 1002.8 630.7 1007.0 628.6 1011.9 C626.5 1016.8 623.5 1025.7 623.2 1028.9 C623.0 1032.1 625.8 1032.9 627.1 1031.3 C628.4 1029.7 629.8 1022.2 631.0 1019.2 C632.2 1016.2 632.8 1015.0 634.4 1013.4 C636.0 1011.8 638.8 1011.8 640.7 1009.5 C642.6 1007.2 643.6 1002.5 645.6 999.7 C647.6 996.9 643.6 994.0 652.9 992.5 C662.2 991.0 693.4 990.8 701.5 990.5" fill="none" stroke="#4fe6b8" stroke-width="2.9" stroke-linejoin="round"/>
<line x1="763.7" y1="880.7" x2="772.5" y2="846.2" stroke="#cf7aec" stroke-width="2.0"/><polygon points="774.8,837.0 776.0,847.1 769.0,845.3" fill="#cf7aec"/>
<line x1="806.4" y1="895.3" x2="799.3" y2="936.9" stroke="#cf7aec" stroke-width="2.0"/><polygon points="797.7,946.3 795.7,936.3 802.8,937.5" fill="#cf7aec"/>
<line x1="613.0" y1="1025.0" x2="619.8" y2="1000.7" stroke="#cf7aec" stroke-width="2.0"/><polygon points="622.3,991.5 623.2,1001.6 616.3,999.7" fill="#cf7aec"/>
<line x1="649.5" y1="1016.8" x2="638.4" y2="1037.5" stroke="#cf7aec" stroke-width="2.0"/><polygon points="633.9,1045.9 635.2,1035.8 641.6,1039.2" fill="#cf7aec"/>
<text class="s" x="753.5" y="876.8" font-size="17" fill="#27279c" text-anchor="middle">1</text>
<text class="s" x="811.8" y="925.4" font-size="17" fill="#27279c" text-anchor="middle">2</text>
<text class="s" x="661.1" y="1025.5" font-size="17" fill="#27279c" text-anchor="middle">3</text>
<text class="s" x="601.9" y="1027.4" font-size="17" fill="#27279c" text-anchor="middle">4</text>
<path d="M886.1 991.0 C895.0 991.0 924.2 991.0 939.6 991.0 C955.0 991.0 970.3 992.4 978.4 991.0 C986.5 989.6 985.0 987.3 988.2 982.7 C991.5 978.1 994.7 971.4 997.9 963.3 C1001.1 955.2 1004.8 943.8 1007.6 934.1 C1010.4 924.4 1012.9 913.9 1014.9 905.0 C1016.9 896.1 1018.1 890.4 1019.7 880.7 C1021.3 871.0 1023.0 859.7 1024.6 846.7 C1026.2 833.8 1027.5 822.4 1029.5 803.0 C1031.5 783.6 1034.4 756.0 1036.8 730.1 C1039.2 704.2 1042.2 667.2 1044.0 647.5 C1045.8 627.8 1047.0 612.0 1047.4 612.0 C1047.8 612.0 1047.8 627.8 1046.5 647.5 C1045.2 667.2 1042.0 702.6 1039.7 730.1 C1037.4 757.6 1034.4 792.5 1032.4 812.7 C1030.4 832.9 1029.0 837.7 1027.5 851.5 C1026.0 865.3 1024.8 880.7 1023.6 895.3 C1022.4 909.9 1021.6 926.9 1020.2 939.0 C1018.8 951.1 1017.5 960.5 1015.4 968.2 C1013.3 975.9 1010.5 981.5 1007.6 985.2 C1004.7 988.9 1002.4 989.4 997.9 990.5 C993.4 991.6 990.6 991.8 980.9 992.0 C971.2 992.2 955.4 991.6 939.6 991.5 C923.8 991.4 899.1 991.5 886.1 991.5 C873.1 991.5 867.5 990.9 861.8 991.5 C856.1 992.1 854.6 992.3 852.1 994.9 C849.6 997.5 848.2 1001.7 846.8 1007.0 C845.4 1012.3 843.7 1022.8 843.8 1026.5 C843.9 1030.2 845.8 1030.5 847.2 1029.4 C848.6 1028.3 850.1 1022.0 852.1 1019.7 C854.1 1017.4 857.0 1017.5 859.4 1015.8 C861.8 1014.1 864.3 1011.4 866.7 1009.5 C869.1 1007.6 871.6 1007.0 874.0 1004.6 C876.4 1002.2 878.9 997.1 881.3 994.9 C883.7 992.7 878.9 992.2 888.6 991.5 C898.3 990.8 931.1 990.7 939.6 990.5" fill="none" stroke="#55b3ea" stroke-width="2.9" stroke-linejoin="round"/>
<line x1="988.2" y1="947.8" x2="996.1" y2="922.8" stroke="#cf7aec" stroke-width="2.0"/><polygon points="998.9,913.7 999.5,923.8 992.6,921.7" fill="#cf7aec"/>
<line x1="1045.0" y1="857.4" x2="1037.1" y2="899.6" stroke="#cf7aec" stroke-width="2.0"/><polygon points="1035.3,908.9 1033.5,898.9 1040.6,900.2" fill="#cf7aec"/>
<line x1="834.1" y1="1024.0" x2="843.1" y2="998.9" stroke="#cf7aec" stroke-width="2.0"/><polygon points="846.3,990.0 846.5,1000.2 839.7,997.7" fill="#cf7aec"/>
<line x1="883.7" y1="1013.4" x2="871.2" y2="1030.9" stroke="#cf7aec" stroke-width="2.0"/><polygon points="865.7,1038.6 868.3,1028.8 874.2,1033.0" fill="#cf7aec"/>
<text class="s" x="978.9" y="950.2" font-size="17" fill="#27279c" text-anchor="middle">1</text>
<text class="s" x="1049.4" y="894.8" font-size="17" fill="#27279c" text-anchor="middle">2</text>
<text class="s" x="893.4" y="1042.0" font-size="17" fill="#27279c" text-anchor="middle">3</text>
<text class="s" x="834.6" y="999.7" font-size="17" fill="#27279c" text-anchor="middle">4</text>
</g>
<g id="pe">
<text class="s" font-size="42.5" text-anchor="start" fill="#111" transform="translate(1078.5 575)">(e)</text>
<rect x="1207.3" y="576.2" width="616.7" height="518.5999999999999" fill="none" stroke="#111" stroke-width="3.0"/>
<line x1="1207.3" y1="636.0" x2="1216.3" y2="636.0" stroke="#111" stroke-width="3"/>
<text class="s" x="1181.5" y="646.5" font-size="24" text-anchor="end" fill="#1a1a1a">10</text>
<text class="s" x="1182" y="634.5" font-size="15" fill="#1a1a1a">-3</text>
<line x1="1207.3" y1="789.8" x2="1216.3" y2="789.8" stroke="#111" stroke-width="3"/>
<text class="s" x="1181.5" y="800.3" font-size="24" text-anchor="end" fill="#1a1a1a">10</text>
<text class="s" x="1182" y="788.3" font-size="15" fill="#1a1a1a">-4</text>
<line x1="1207.3" y1="942.6" x2="1216.3" y2="942.6" stroke="#111" stroke-width="3"/>
<text class="s" x="1181.5" y="953.1" font-size="24" text-anchor="end" fill="#1a1a1a">10</text>
<text class="s" x="1182" y="941.1" font-size="15" fill="#1a1a1a">-5</text>
<line x1="1207.3" y1="1094.8" x2="1216.3" y2="1094.8" stroke="#111" stroke-width="3"/>
<text class="s" x="1181.5" y="1105.3" font-size="24" text-anchor="end" fill="#1a1a1a">10</text>
<text class="s" x="1182" y="1093.3" font-size="15" fill="#1a1a1a">-6</text>
<line x1="1270.9" y1="1094.8" x2="1270.9" y2="1085.8" stroke="#111" stroke-width="3"/>
<text class="s" x="1270.9" y="1126.5" font-size="24" text-anchor="middle" fill="#1a1a1a">2.0</text>
<line x1="1433.6" y1="1094.8" x2="1433.6" y2="1085.8" stroke="#111" stroke-width="3"/>
<text class="s" x="1433.6" y="1126.5" font-size="24" text-anchor="middle" fill="#1a1a1a">2.5</text>
<line x1="1596.2" y1="1094.8" x2="1596.2" y2="1085.8" stroke="#111" stroke-width="3"/>
<text class="s" x="1596.2" y="1126.5" font-size="24" text-anchor="middle" fill="#1a1a1a">3.0</text>
<line x1="1758.3" y1="1094.8" x2="1758.3" y2="1085.8" stroke="#111" stroke-width="3"/>
<text class="s" x="1758.3" y="1126.5" font-size="24" text-anchor="middle" fill="#1a1a1a">3.5</text>
<text class="s" font-size="41.5" text-anchor="middle" fill="#111" transform="translate(1522.6 1173)">Bias(V)</text>
<text class="s" font-size="39.4" text-anchor="middle" fill="#111" transform="translate(1147.3 834.4) rotate(-90) scale(1.1 1)">Current(A)</text>
<polyline points="1270.9,768.4 1433.6,680.2 1596.2,650.6 1758.3,622.2" fill="none" stroke="#4db4f0" stroke-width="3"/>
<rect x="1265.4" y="762.9" width="11" height="11" fill="#4db4f0"/>
<rect x="1428.1" y="674.7" width="11" height="11" fill="#4db4f0"/>
<rect x="1590.7" y="645.1" width="11" height="11" fill="#4db4f0"/>
<rect x="1752.8" y="616.7" width="11" height="11" fill="#4db4f0"/>
<polyline points="1270.9,1015.4 1433.6,1002.8 1596.2,991.9 1758.3,978.2" fill="none" stroke="#f0a566" stroke-width="3"/>
<circle cx="1270.9" cy="1015.4" r="5.8" fill="#f0a566"/>
<circle cx="1433.6" cy="1002.8" r="5.8" fill="#f0a566"/>
<circle cx="1596.2" cy="991.9" r="5.8" fill="#f0a566"/>
<circle cx="1758.3" cy="978.2" r="5.8" fill="#f0a566"/>
<line x1="1230" y1="605.4" x2="1298.5" y2="605.4" stroke="#4db4f0" stroke-width="3"/><rect x="1259" y="600" width="11" height="11" fill="#4db4f0"/>
<line x1="1230" y1="651.8" x2="1298.5" y2="651.8" stroke="#f0a566" stroke-width="3"/><circle cx="1264.5" cy="651.8" r="5.6" fill="#f0a566"/>
<text class="s" x="1306" y="616" font-size="31" fill="#111">I<tspan font-size="20" dy="8.5">on</tspan></text>
<text class="s" x="1306" y="662" font-size="31" fill="#111">I<tspan font-size="20" dy="8.5">off</tspan></text>
<rect x="1490" y="679.7" width="292" height="250.29999999999995" fill="#fff" stroke="#2a2a2a" stroke-width="2"/>
<line x1="1520.1" y1="930" x2="1520.1" y2="926" stroke="#2a2a2a" stroke-width="1.6"/>
<text class="s" x="1520.1" y="948" font-size="13" text-anchor="middle" fill="#222">2.0</text>
<line x1="1597.3" y1="930" x2="1597.3" y2="926" stroke="#2a2a2a" stroke-width="1.6"/>
<text class="s" x="1597.3" y="948" font-size="13" text-anchor="middle" fill="#222">2.5</text>
<line x1="1674" y1="930" x2="1674" y2="926" stroke="#2a2a2a" stroke-width="1.6"/>
<text class="s" x="1674" y="948" font-size="13" text-anchor="middle" fill="#222">3.0</text>
<line x1="1751.2" y1="930" x2="1751.2" y2="926" stroke="#2a2a2a" stroke-width="1.6"/>
<text class="s" x="1751.2" y="948" font-size="13" text-anchor="middle" fill="#222">3.5</text>
<line x1="1490" y1="723.5" x2="1494" y2="723.5" stroke="#2a2a2a" stroke-width="1.6"/>
<text class="s" x="1485.5" y="727.7" font-size="12.5" text-anchor="end" fill="#222">200</text>
<line x1="1490" y1="831.9" x2="1494" y2="831.9" stroke="#2a2a2a" stroke-width="1.6"/>
<text class="s" x="1485.5" y="836.1" font-size="12.5" text-anchor="end" fill="#222">100</text>
<polyline points="1520.1,896 1597.3,799.6 1674,750.9 1751.2,704.9" fill="none" stroke="#7f7f7f" stroke-width="2"/>
<rect x="1516.6" y="892.5" width="7" height="7" fill="#7f7f7f"/>
<rect x="1593.8" y="796.1" width="7" height="7" fill="#7f7f7f"/>
<rect x="1670.5" y="747.4" width="7" height="7" fill="#7f7f7f"/>
<rect x="1747.7" y="701.4" width="7" height="7" fill="#7f7f7f"/>
<line x1="1500" y1="699.4" x2="1539.5" y2="699.4" stroke="#7f7f7f" stroke-width="2"/><rect x="1516.5" y="696" width="7" height="7" fill="#7f7f7f"/>
<text class="s" x="1546" y="705" font-size="17.5" fill="#222">I<tspan font-size="11.5" dy="4">on</tspan><tspan dy="-4">/I</tspan><tspan font-size="11.5" dy="4">off</tspan></text>
<text class="s" x="1643.5" y="973" font-size="23" text-anchor="middle" fill="#222">Bias(V)</text>
<text class="s" font-size="28" text-anchor="middle" fill="#222" transform="translate(1458 826.5) rotate(-90) scale(1.13 1)">Current</text>
</g>
</svg>
</body></html>
